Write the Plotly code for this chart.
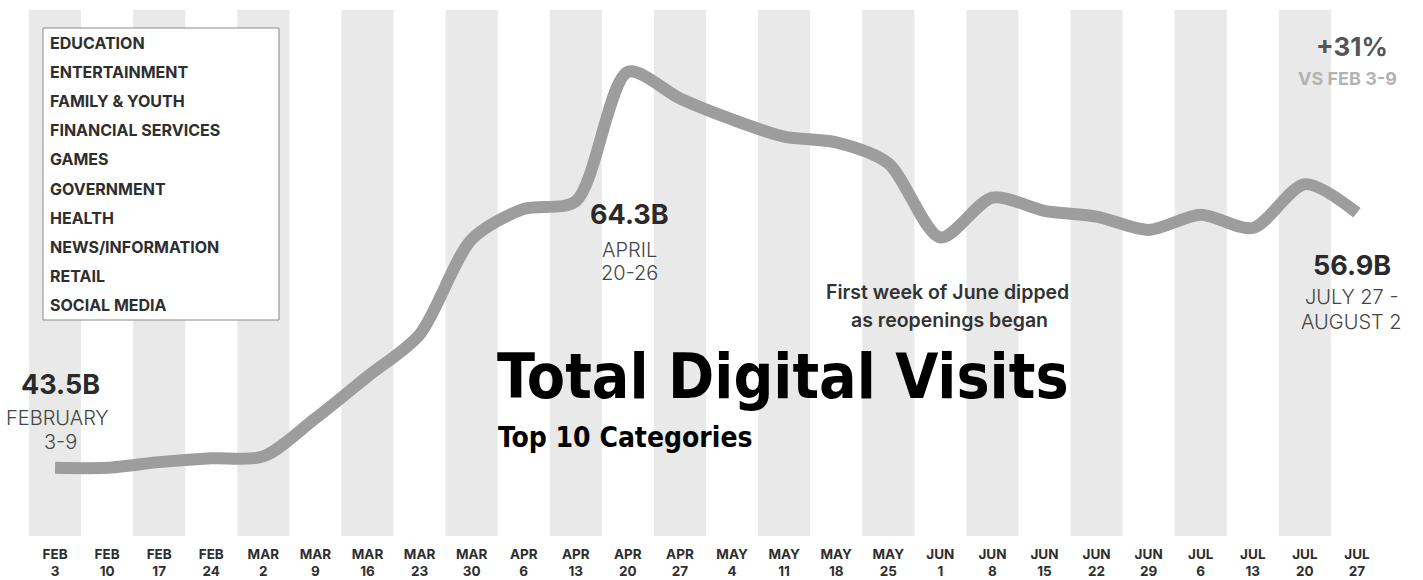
import plotly.graph_objects as go

# Weekly total digital visits (billions), week starting Feb 3 through Jul 27
week_months = ["FEB", "FEB", "FEB", "FEB", "MAR", "MAR", "MAR", "MAR", "MAR",
               "APR", "APR", "APR", "APR", "MAY", "MAY", "MAY", "MAY",
               "JUN", "JUN", "JUN", "JUN", "JUN", "JUL", "JUL", "JUL", "JUL"]
week_days = ["3", "10", "17", "24", "2", "9", "16", "23", "30",
             "6", "13", "20", "27", "4", "11", "18", "25",
             "1", "8", "15", "22", "29", "6", "13", "20", "27"]
visits = [43.5, 43.5, 43.8, 44.0, 44.1, 46.1, 48.3, 50.5, 55.5,
          57.1, 57.5, 64.3, 62.9, 61.8, 60.9, 60.6, 59.5,
          55.6, 57.7, 57.0, 56.7, 56.0, 56.8, 56.1, 58.4, 56.9]
categories = ["EDUCATION", "ENTERTAINMENT", "FAMILY & YOUTH", "FINANCIAL SERVICES",
              "GAMES", "GOVERNMENT", "HEALTH", "NEWS/INFORMATION", "RETAIL",
              "SOCIAL MEDIA"]

W, H = 1423, 580
ML, MR, MT, MB = 29, 40, 10, 44
PW, PH = W - ML - MR, H - MT - MB


def px_x(px):
    return (px - ML) / PW


def px_y(py):
    return (H - MB - py) / PH


idx = list(range(len(visits)))
ticktext = [f"{m}<br>{d}" for m, d in zip(week_months, week_days)]

fig = go.Figure()
fig.add_trace(go.Scatter(
    x=idx, y=visits, mode="lines",
    line=dict(color="#9d9d9d", width=12, shape="spline", smoothing=0.8),
    hoverinfo="skip", showlegend=False,
))

shapes = []
# alternating weekly bands
for i in idx:
    if i % 2 == 0:
        shapes.append(dict(type="rect", xref="x", yref="paper",
                           x0=i - 0.5, x1=i + 0.5, y0=0, y1=1,
                           fillcolor="#e9e9e9", line=dict(width=0), layer="below"))
# category box
shapes.append(dict(type="rect", xref="paper", yref="paper",
                   x0=px_x(43), x1=px_x(279), y0=px_y(320), y1=px_y(28),
                   fillcolor="white", line=dict(color="#8a8a8a", width=1),
                   layer="above"))

BODY = "Inter, Lato, sans-serif"
annotations = []
for k, name in enumerate(categories):
    annotations.append(dict(
        xref="paper", yref="paper", x=px_x(48), y=px_y(43 + 29.1 * k),
        xanchor="left", yanchor="middle", showarrow=False, text=name,
        font=dict(family=BODY, size=16, color="#2e2e2e", weight=700),
    ))


def label(xpx, ypx, text, size, color, weight=400, anchor="center", family=BODY):
    annotations.append(dict(
        xref="paper", yref="paper", x=px_x(xpx), y=px_y(ypx),
        xanchor=anchor, yanchor="middle", showarrow=False, text=text,
        font=dict(family=family, size=size, color=color, weight=weight),
    ))


first, peak, last = visits[0], max(visits), visits[-1]
label(60, 384, f"{first:.1f}B", 27, "#2a2a2a", weight=700)
label(57, 418, "FEBRUARY", 20, "#444444", weight=300)
label(60, 442, "3-9", 20, "#444444", weight=300)

label(629, 214, f"{peak:.1f}B", 27, "#2a2a2a", weight=700)
label(629, 250, "APRIL", 20, "#444444", weight=300)
label(629, 273, "20-26", 20, "#444444", weight=300)

label(1352, 265, f"{last:.1f}B", 27, "#2a2a2a", weight=700)
label(1351, 297, "JULY 27 -", 20, "#444444", weight=300)
label(1351, 322, "AUGUST 2", 20, "#444444", weight=300)

change = round((last / first - 1) * 100)
label(1352, 47, f"+{change}%", 26, "#555555", weight=700)
label(1347, 78, "VS FEB 3-9", 18, "#b3b3b3", weight=700)

label(948, 292, "First week of June dipped", 19.5, "#333333", weight=600)
label(950, 320, "as reopenings began", 19.5, "#333333", weight=600)

TITLE = "'Liberation Sans Narrow', 'DejaVu Sans Condensed', sans-serif"
label(495, 376, "Total Digital Visits", 62, "#000000", weight=700, anchor="left", family=TITLE)
label(496, 437, "Top 10 Categories", 28, "#000000", weight=700, anchor="left", family=TITLE)

fig.update_layout(
    width=W, height=H,
    margin=dict(l=ML, r=MR, t=MT, b=MB, autoexpand=False),
    paper_bgcolor="white", plot_bgcolor="white",
    shapes=shapes, annotations=annotations,
    xaxis=dict(range=[-0.5, len(visits) - 0.5], tickmode="array", tickvals=idx,
               ticktext=ticktext, showgrid=False, zeroline=False, showline=False,
               ticks="", ticklabelstandoff=8, automargin=False,
               tickfont=dict(family=BODY, size=13.5, color="#2e2e2e", weight=700),
               fixedrange=True),
    yaxis=dict(range=[39.92, 67.55], visible=False, fixedrange=True),
    font=dict(family=BODY),
)

fig.write_html("out.html", config={"displayModeBar": False})
